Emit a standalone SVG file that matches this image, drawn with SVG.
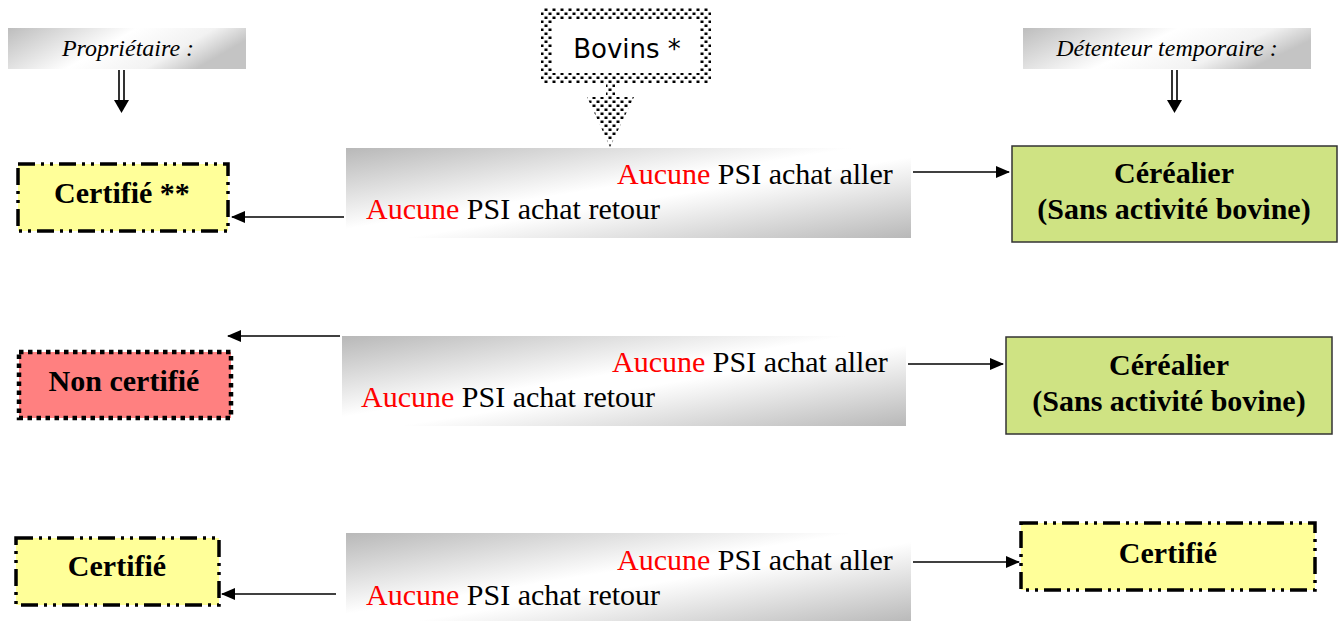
<svg xmlns="http://www.w3.org/2000/svg" width="1338" height="621" viewBox="0 0 1338 621">
<style>
.hdr{font-family:"Liberation Serif",serif;font-style:italic;font-size:24px;fill:#000}
.psi{font-family:"Liberation Serif",serif;font-size:30px;fill:#000}
.red{fill:#ff0000}
.bold{font-family:"Liberation Serif",serif;font-weight:bold;font-size:30px;fill:#000;text-anchor:middle}
.yel{fill:#ffff99;stroke:#000;stroke-width:3.5;stroke-dasharray:17 6 3 6 3 6}
.grn{fill:#cfe383;stroke:#333;stroke-width:1.5}
.conn{stroke:#000;stroke-width:1.5;fill:none}
</style>
<defs>
<linearGradient id="gBox" x1="0" y1="0" x2="1" y2="1">
<stop offset="0" stop-color="#b8b8b8"/>
<stop offset="0.45" stop-color="#ffffff"/>
<stop offset="0.55" stop-color="#ffffff"/>
<stop offset="1" stop-color="#b8b8b8"/>
</linearGradient>
<linearGradient id="gHdr" x1="0" y1="0" x2="1" y2="0.3">
<stop offset="0" stop-color="#bdbdbd"/>
<stop offset="0.5" stop-color="#ffffff"/>
<stop offset="0.8" stop-color="#f2f2f2"/>
<stop offset="1" stop-color="#c4c4c4"/>
</linearGradient>
<pattern id="dots" width="8" height="8" patternUnits="userSpaceOnUse">
<rect width="8" height="8" fill="#fff"/>
<rect x="0.5" y="0.5" width="3" height="2.5" fill="#000"/>
<rect x="4.5" y="4.5" width="3" height="2.5" fill="#000"/>
</pattern>
<marker id="ah" markerWidth="14" markerHeight="12" refX="13" refY="6" orient="auto" markerUnits="userSpaceOnUse">
<path d="M0,0 L14,6 L0,12 Z" fill="#000"/>
</marker>
</defs>

<g id="hdr-proprietaire">
<rect x="8" y="28" width="238" height="41" fill="url(#gHdr)"/>
<text class="hdr" x="128" y="56" text-anchor="middle">Propriétaire :</text>
<path d="M119,70 V102 M124,70 V102" stroke="#000" stroke-width="1.6"/>
<path d="M114,100 L129,100 L121.5,113 Z" fill="#000"/>
</g>

<g id="hdr-detenteur">
<rect x="1023" y="28" width="288" height="41" fill="url(#gHdr)"/>
<text class="hdr" x="1167" y="56" text-anchor="middle">Détenteur temporaire :</text>
<path d="M1172,70 V102 M1177,70 V102" stroke="#000" stroke-width="1.6"/>
<path d="M1167,100 L1182,100 L1174.5,113 Z" fill="#000"/>
</g>

<g id="bovins">
<rect x="541" y="8" width="170" height="75" fill="url(#dots)"/>
<rect x="552" y="19" width="148" height="54" fill="#fff"/>
<path d="M606,83 H615 V97 H634 L610,147 L587,97 H606 Z" fill="url(#dots)"/>
<text x="627" y="58" text-anchor="middle" font-family="'DejaVu Sans',sans-serif" font-size="26" fill="#000">Bovins *</text>
</g>

<g id="psi-1">
<rect x="346" y="148" width="565" height="90" fill="url(#gBox)"/>
<text class="psi" x="617" y="184"><tspan class="red">Aucune</tspan> PSI achat aller</text>
<text class="psi" x="366" y="219"><tspan class="red">Aucune</tspan> PSI achat retour</text>
</g>
<g id="psi-2">
<rect x="342" y="336" width="564" height="90" fill="url(#gBox)"/>
<text class="psi" x="612" y="372"><tspan class="red">Aucune</tspan> PSI achat aller</text>
<text class="psi" x="361" y="407"><tspan class="red">Aucune</tspan> PSI achat retour</text>
</g>
<g id="psi-3">
<rect x="346" y="533" width="565" height="90" fill="url(#gBox)"/>
<text class="psi" x="617" y="570"><tspan class="red">Aucune</tspan> PSI achat aller</text>
<text class="psi" x="366" y="605"><tspan class="red">Aucune</tspan> PSI achat retour</text>
</g>

<g id="certifie-1">
<rect class="yel" x="18" y="164" width="210" height="67"/>
<text class="bold" x="122" y="203">Certifié **</text>
</g>
<g id="non-certifie">
<rect x="19" y="352" width="212" height="66" fill="#ff8080" stroke="#000" stroke-width="4.5" stroke-dasharray="4.5 4.5"/>
<text class="bold" x="124" y="391">Non certifié</text>
</g>
<g id="certifie-3">
<rect class="yel" x="16" y="538" width="203" height="67"/>
<text class="bold" x="117" y="576">Certifié</text>
</g>

<g id="cerealier-1">
<rect class="grn" x="1012" y="146" width="325" height="96"/>
<text class="bold" x="1174" y="183">Céréalier</text>
<text class="bold" x="1174" y="219">(Sans activité bovine)</text>
</g>
<g id="cerealier-2">
<rect class="grn" x="1006" y="337" width="326" height="97"/>
<text class="bold" x="1169" y="375">Céréalier</text>
<text class="bold" x="1169" y="411">(Sans activité bovine)</text>
</g>
<g id="certifie-r">
<rect class="yel" x="1021" y="523" width="294" height="67"/>
<text class="bold" x="1168" y="563">Certifié</text>
</g>

<g id="connectors">
<line class="conn" x1="344" y1="217" x2="232" y2="217" marker-end="url(#ah)"/>
<line class="conn" x1="340" y1="336" x2="228" y2="336" marker-end="url(#ah)"/>
<line class="conn" x1="336" y1="594" x2="222" y2="594" marker-end="url(#ah)"/>
<line class="conn" x1="913" y1="172" x2="1009" y2="172" marker-end="url(#ah)"/>
<line class="conn" x1="908" y1="364" x2="1003" y2="364" marker-end="url(#ah)"/>
<line class="conn" x1="913" y1="562" x2="1019" y2="562" marker-end="url(#ah)"/>
</g>
</svg>
